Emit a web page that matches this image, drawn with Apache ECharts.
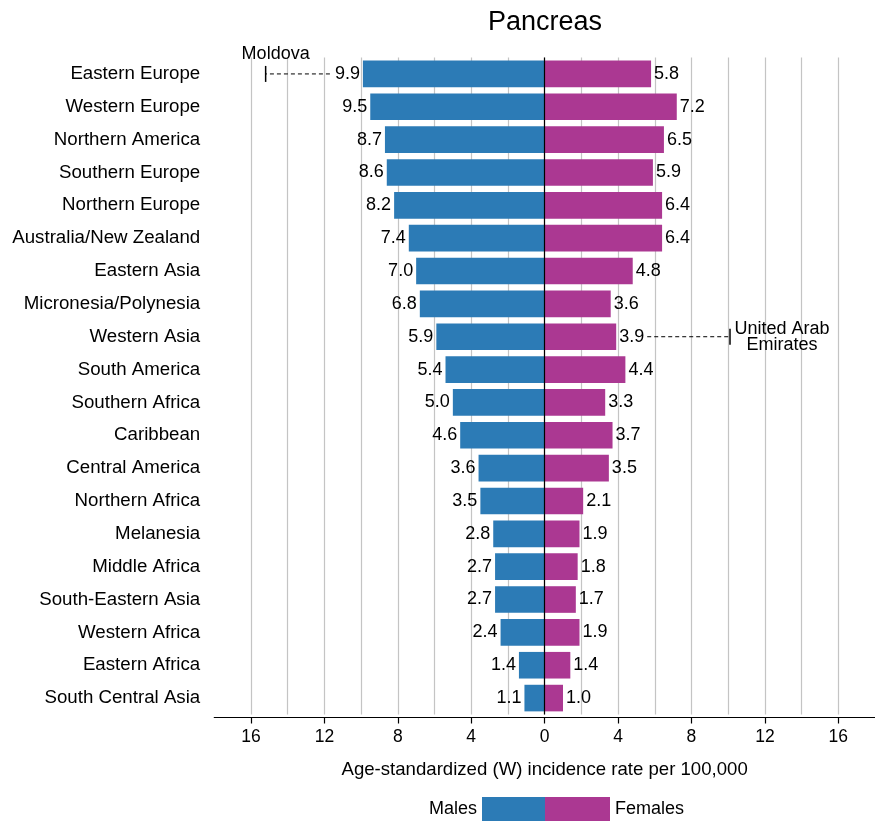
<!DOCTYPE html>
<html>
<head>
<meta charset="utf-8">
<script src="https://cdn.jsdelivr.net/npm/echarts@6/dist/echarts.min.js"></script>
<style>html,body{margin:0;padding:0;background:#fff}#c{width:875px;height:821px}</style>
</head>
<body>
<div id="c"></div>
<script>
const regions = ['Eastern Europe','Western Europe','Northern America','Southern Europe','Northern Europe','Australia/New Zealand','Eastern Asia','Micronesia/Polynesia','Western Asia','South America','Southern Africa','Caribbean','Central America','Northern Africa','Melanesia','Middle Africa','South-Eastern Asia','Western Africa','Eastern Africa','South Central Asia'];
const males = [9.9, 9.5, 8.7, 8.6, 8.2, 7.4, 7.0, 6.8, 5.9, 5.4, 5.0, 4.6, 3.6, 3.5, 2.8, 2.7, 2.7, 2.4, 1.4, 1.1];
const females = [5.8, 7.2, 6.5, 5.9, 6.4, 6.4, 4.8, 3.6, 3.9, 4.4, 3.3, 3.7, 3.5, 2.1, 1.9, 1.8, 1.7, 1.9, 1.4, 1.0];
const maxCountryNames = ['Moldova', 'United Arab\nEmirates'];
const maxCountryRegions = ['Eastern Europe', 'Western Asia'];
const maxCountrySex = ['Males', 'Females'];
const maxCountryValues = [15.2, 10.1];
const xTickValues = [-16, -12, -8, -4, 0, 4, 8, 12, 16];
const titleText = 'Pancreas';
const xAxisTitle = 'Age-standardized (W) incidence rate per 100,000';

const FONT = 'Liberation Sans, Arial, Helvetica, sans-serif';
const BLUE = '#2c7bb6';
const MAGENTA = '#ab3892';

const annoData = maxCountryNames.map((n, i) => {
  const ci = regions.indexOf(maxCountryRegions[i]);
  const isM = maxCountrySex[i] === 'Males';
  const bar = isM ? -males[ci] : females[ci];
  const v = isM ? -maxCountryValues[i] : maxCountryValues[i];
  return [v, ci, bar, i];
});

const chart = echarts.init(document.getElementById('c'), null, {renderer: 'canvas'});
chart.setOption({
  animation: false,
  backgroundColor: '#fff',
  textStyle: {fontFamily: FONT},
  title: {
    text: titleText, left: 540, top: 4, textAlign: 'center',
    textStyle: {fontFamily: FONT, fontSize: 27, fontWeight: 'normal', color: '#000'}
  },
  grid: {left: 214.25, right: 0, top: 57.5, bottom: 106.5, containLabel: false},
  legend: [
    {data: ['Males'], right: 330, top: 797, padding: 0, itemWidth: 63, itemHeight: 24, align: 'right', icon: 'rect',
     textStyle: {fontFamily: FONT, fontSize: 18, color: '#000'}, selectedMode: false},
    {data: ['Females'], left: 545, top: 797, padding: 0, itemWidth: 65, itemHeight: 24, align: 'left', icon: 'rect',
     textStyle: {fontFamily: FONT, fontSize: 18, color: '#000'}, selectedMode: false}
  ],
  xAxis: [
    {
      type: 'value', min: -18, max: 18, interval: 2, offset: 3,
      name: xAxisTitle, nameLocation: 'middle', nameGap: 43,
      nameTextStyle: {fontFamily: FONT, fontSize: 18.6, color: '#000'},
      axisLine: {show: true, lineStyle: {color: '#000', width: 1.2}},
      axisTick: {show: true, customValues: xTickValues, length: 6, lineStyle: {color: '#000', width: 1.2}},
      axisLabel: {customValues: xTickValues, margin: 11, fontFamily: FONT, fontSize: 17.5, color: '#000',
        formatter: v => String(Math.abs(v))},
      splitLine: {show: false}
    },
    {
      type: 'value', min: -18, max: 18, interval: 2, position: 'bottom',
      axisLine: {show: false}, axisTick: {show: false}, axisLabel: {show: false},
      splitLine: {show: true, showMinLine: false, showMaxLine: false, lineStyle: {color: '#c4c4c4', width: 1.2}}
    }
  ],
  yAxis: {
    type: 'category', data: regions, inverse: true,
    axisLine: {show: false}, axisTick: {show: false},
    axisLabel: {margin: 14, fontFamily: FONT, fontSize: 18.7, color: '#000'}
  },
  series: [
    {
      name: 'Males', type: 'bar', stack: 'total', data: males.map(v => -v),
      barCategoryGap: '19%', itemStyle: {color: BLUE}, z: 3,
      label: {show: true, position: 'left', distance: 3, fontFamily: FONT, fontSize: 18, color: '#000',
        formatter: p => Math.abs(p.value).toFixed(1)}
    },
    {
      name: 'Females', type: 'bar', stack: 'total', data: females,
      barCategoryGap: '19%', itemStyle: {color: MAGENTA}, z: 3,
      label: {show: true, position: 'right', distance: 3, fontFamily: FONT, fontSize: 18, color: '#000',
        formatter: p => p.value.toFixed(1)},
      markLine: {
        silent: true, symbol: ['none', 'none'], label: {show: false},
        lineStyle: {color: '#000', type: 'solid', width: 1.2},
        data: [{xAxis: 0}]
      }
    },
    {
      name: 'maxCountry', type: 'custom', clip: false, silent: true, z: 4,
      encode: {x: 0, y: 1},
      data: annoData,
      renderItem: function (params, api) {
        const v = api.value(0), ci = api.value(1), bar = api.value(2), idx = api.value(3);
        const p = api.coord([v, ci]);
        const b = api.coord([bar, ci]);
        const left = v < 0;
        const start = b[0] + (left ? -33 : 31);
        const name = maxCountryNames[idx];
        return {
          type: 'group',
          children: [
            {type: 'line', shape: {x1: start, y1: p[1], x2: p[0], y2: p[1]},
             style: {stroke: '#000', lineWidth: 1, lineDash: [4, 3]}},
            {type: 'line', shape: {x1: p[0], y1: p[1] - 8, x2: p[0], y2: p[1] + 8},
             style: {stroke: '#000', lineWidth: 1.5}},
            {type: 'text',
             style: left
               ? {text: name, x: p[0] + 10, y: p[1] - 20, align: 'center', verticalAlign: 'middle',
                  font: '18px ' + FONT, fill: '#000'}
               : {text: name, x: p[0] + 52, y: p[1], align: 'center', verticalAlign: 'middle',
                  font: '18px ' + FONT, fill: '#000', lineHeight: 16}}
          ]
        };
      }
    }
  ]
});
</script>
</body>
</html>
